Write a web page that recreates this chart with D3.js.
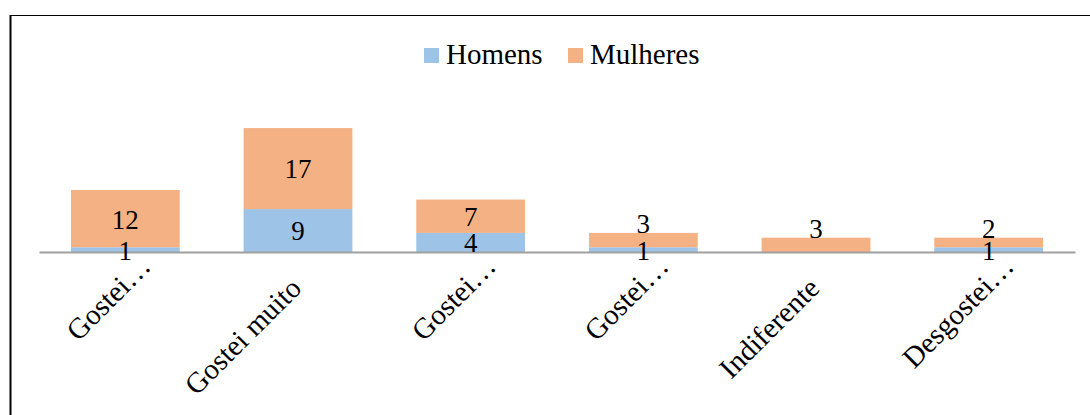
<!DOCTYPE html>
<html>
<head>
<meta charset="utf-8">
<script src="https://cdn.jsdelivr.net/npm/d3@7"></script>
<style>
    body { margin: 0; background: #fff; }
    text { font-family: "Liberation Serif", "Times New Roman", serif; fill: #000; }
</style>
</head>
<body>
<div class="chart"></div>
<script>

var categories = ["Gostei…", "Gostei muito", "Gostei…", "Gostei…", "Indiferente", "Desgostei…"];
var homens = [1, 9, 4, 1, 0, 1];
var mulheres = [12, 17, 7, 3, 3, 2];
var seriesNames = ["Homens", "Mulheres"];
var seriesColors = ["#9dc3e6", "#f4b183"];

var svgWidth = 1090;
var svgHeight = 415;

var margin = {
    top: 109,
    right: 15,
    bottom: 163,
    left: 39
};

var width = svgWidth - margin.left - margin.right;
var height = svgHeight - margin.top - margin.bottom;

var svg = d3.select(".chart")
    .append("svg")
    .attr("width", svgWidth)
    .attr("height", svgHeight);

// outer chart border (runs off the right / bottom edge)
svg.append("rect")
    .attr("x", 10.5)
    .attr("y", 15.5)
    .attr("width", 1200)
    .attr("height", 500)
    .attr("fill", "none")
    .attr("stroke", "#000")
    .attr("stroke-width", 1);
svg.append("line")
    .attr("x1", 10.5).attr("x2", 10.5)
    .attr("y1", 15).attr("y2", svgHeight)
    .attr("stroke", "#000")
    .attr("stroke-width", 2);

var chartGroup = svg.append("g")
    .attr("transform", `translate(${margin.left}, ${margin.top})`);

var tableData = categories.map(function (c, i) {
    return { idx: i, cat: c, Homens: homens[i], Mulheres: mulheres[i] };
});

var stacked = d3.stack().keys(seriesNames)(tableData);

var xBandScale = d3.scaleBand()
    .domain(d3.range(categories.length))
    .range([0, width])
    .paddingInner(0.37)
    .paddingOuter(0.185);

var yLinearScale = d3.scaleLinear()
    .domain([0, 30])
    .range([height, 0]);

var colorScale = d3.scaleOrdinal()
    .domain(seriesNames)
    .range(seriesColors);

// bars
var layers = chartGroup.selectAll(".layer")
    .data(stacked)
    .enter()
    .append("g")
    .attr("class", "layer")
    .attr("fill", d => colorScale(d.key));

layers.selectAll("rect")
    .data(d => d)
    .enter()
    .append("rect")
    .attr("x", d => xBandScale(d.data.idx))
    .attr("y", d => yLinearScale(d[1]))
    .attr("width", xBandScale.bandwidth())
    .attr("height", d => yLinearScale(d[0]) - yLinearScale(d[1]));

// category axis line
var bottomAxis = d3.axisBottom(xBandScale)
    .tickSize(0)
    .tickFormat("");

var axisG = chartGroup.append("g")
    .attr("transform", `translate(0, ${height})`)
    .call(bottomAxis);
axisG.select(".domain")
    .attr("stroke", "#a0a0a0")
    .attr("stroke-width", 2);

// rotated category labels
var labelFont = 29;
chartGroup.selectAll(".catLabel")
    .data(tableData)
    .enter()
    .append("text")
    .attr("class", "catLabel")
    .attr("text-anchor", "end")
    .attr("font-size", labelFont)
    .attr("transform", d => `translate(${xBandScale(d.idx) + xBandScale.bandwidth() / 2 + 5}, ${height + 38}) rotate(-45)`)
    .attr("dx", d => d.cat.endsWith("…") ? 31 : 0)
    .text(d => d.cat);

// data labels
var valueFont = 27;
stacked.forEach(function (layer) {
    chartGroup.selectAll(".val-" + layer.key)
        .data(layer.filter(d => d[1] - d[0] > 0))
        .enter()
        .append("text")
        .attr("class", "val-" + layer.key)
        .attr("text-anchor", "middle")
        .attr("font-size", valueFont)
        .attr("x", d => xBandScale(d.data.idx) + xBandScale.bandwidth() / 2)
        .attr("y", function (d) {
            var top = yLinearScale(d[1]);
            var bottom = yLinearScale(d[0]);
            var segH = bottom - top;
            if (layer.key === "Mulheres" && segH < 22) {
                return top;
            }
            return (top + bottom) / 2 + valueFont * 0.33 + 1;
        })
        .text(d => d[1] - d[0]);
});

// legend
var legend = svg.append("g")
    .attr("transform", "translate(424, 48)");

var legendX = [0, 144];
seriesNames.forEach(function (name, i) {
    legend.append("rect")
        .attr("x", legendX[i])
        .attr("y", 0)
        .attr("width", 15)
        .attr("height", 15)
        .attr("fill", colorScale(name));
    legend.append("text")
        .attr("x", legendX[i] + 22)
        .attr("y", 16)
        .attr("font-size", 29)
        .text(name);
});

</script>
</body>
</html>
